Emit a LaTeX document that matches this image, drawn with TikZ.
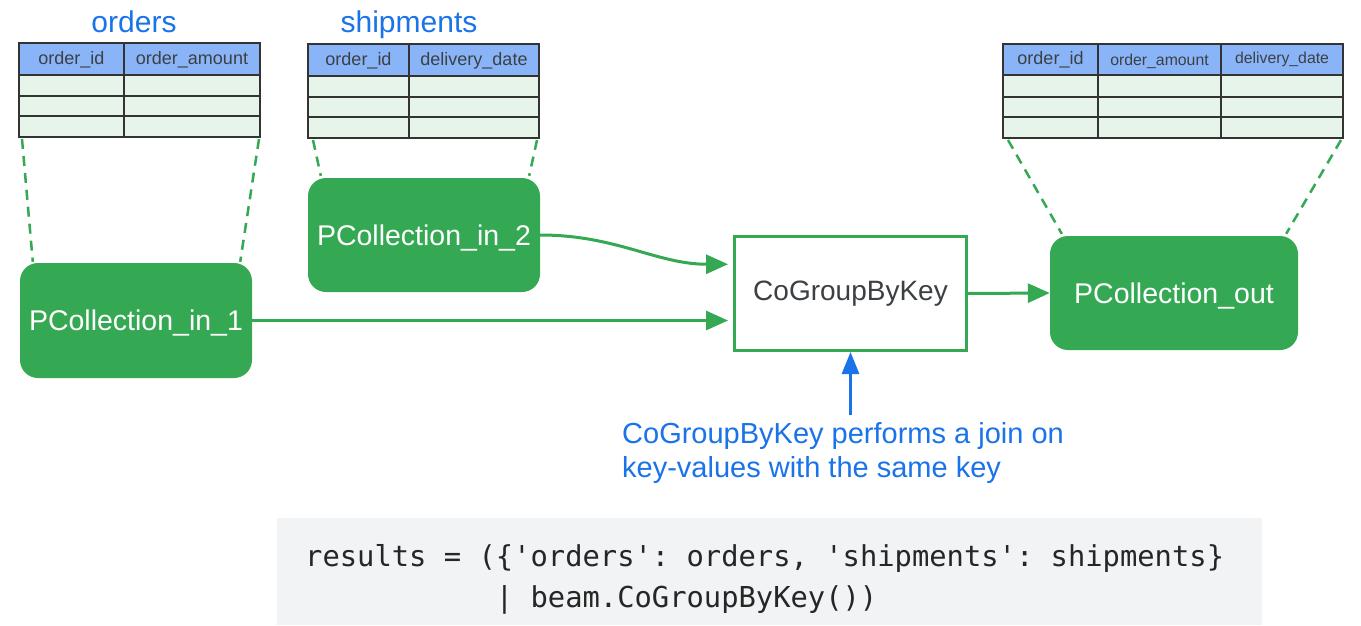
\documentclass[tikz,border=0pt]{standalone}
\usepackage{fontspec}
\setmainfont{Liberation Sans}
\setmonofont{DejaVu Sans Mono}
\usetikzlibrary{arrows.meta,calc}
\definecolor{gGreen}{HTML}{34A853}
\definecolor{gBlue}{HTML}{1A73E8}
\definecolor{hdrBlue}{HTML}{8AB4F8}
\definecolor{rowGreen}{HTML}{E6F4EA}
\definecolor{txtGray}{HTML}{3C4043}
\definecolor{gridGray}{HTML}{333333}
\definecolor{codeBg}{HTML}{F1F3F4}
\begin{document}
\begin{tikzpicture}[x=1pt,y=-1pt,
  pcoll/.style={rectangle, rounded corners=18pt, fill=gGreen, text=white, inner sep=0pt,
    text depth=0pt, font=\fontsize{28.5}{34}\selectfont},
  opbox/.style={rectangle, draw=gGreen, line width=3pt, fill=white, inner sep=0pt,
    text=txtGray, font=\fontsize{28}{32}\selectfont},
  grid/.style={draw=gridGray, line width=2.5pt},
  hdr/.style={text=txtGray, font=\fontsize{18}{20}\selectfont, inner sep=0pt},
  hdrs/.style={text=txtGray, font=\fontsize{15.8}{18}\selectfont, inner sep=0pt},
  ttl/.style={text=gBlue, font=\fontsize{30}{34}\selectfont, inner sep=0pt, anchor=base},
  flow/.style={draw=gGreen, line width=3pt, -{Triangle[length=22pt,width=19pt]}},
  note/.style={draw=gBlue, line width=3pt, -{Triangle[length=22pt,width=17pt]}},
  zoomline/.style={draw=gGreen, line width=2.5pt, dash pattern=on 10pt off 7pt},
  capt/.style={text=gBlue, font=\fontsize{29}{34}\selectfont, inner sep=0pt, anchor=base west},
  code/.style={text=black!85, font=\ttfamily\fontsize{28.8}{34}\selectfont, inner sep=0pt, anchor=base west}
]
\useasboundingbox (0,0) rectangle (1361,625);
\fill[white] (0,0) rectangle (1361,625);

% ---------- orders table ----------
\node[ttl] (tOrders) at (134,32) {orders};
\fill[hdrBlue] (19,43) rectangle (260,75);
\fill[rowGreen] (19,75) rectangle (260,137);
\draw[grid] (19,43) rectangle (260,137) (124,43) -- (124,137)
  (19,75) -- (260,75) (19,96) -- (260,96) (19,116) -- (260,116);
\node[hdr] (o1) at (71.5,60) {order\_id};
\node[hdr] (o2) at (192,60) {order\_amount};
\coordinate (ordBL) at (22,139);
\coordinate (ordBR) at (259,139);

% ---------- shipments table ----------
\node[ttl] (tShip) at (409,32) {shipments};
\fill[hdrBlue] (308,44) rectangle (539,76);
\fill[rowGreen] (308,76) rectangle (539,138);
\draw[grid] (308,44) rectangle (539,138) (409,44) -- (409,138)
  (308,76) -- (539,76) (308,97) -- (539,97) (308,117) -- (539,117);
\node[hdr] (s1) at (358.5,61) {order\_id};
\node[hdr] (s2) at (474,61) {delivery\_date};
\coordinate (shpBL) at (313,140);
\coordinate (shpBR) at (537,140);

% ---------- output table ----------
\fill[hdrBlue] (1003,44) rectangle (1343,75);
\fill[rowGreen] (1003,75) rectangle (1343,138);
\draw[grid] (1003,44) rectangle (1343,138) (1098,44) -- (1098,138) (1221,44) -- (1221,138)
  (1003,75) -- (1343,75) (1003,97) -- (1343,97) (1003,117) -- (1343,117);
\node[hdr] (r1) at (1050.5,60) {order\_id};
\node[hdrs] (r2) at (1159.5,61) {order\_amount};
\node[hdrs] (r3) at (1282,59) {delivery\_date};
\coordinate (outBL) at (1008,140);
\coordinate (outBR) at (1341,140);

% ---------- nodes ----------
\node[pcoll, minimum width=232pt, minimum height=115pt] (in1) at (136,320.5) {PCollection\_in\_1};
\node[pcoll, minimum width=232pt, minimum height=114pt] (in2) at (424,235) {PCollection\_in\_2};
\node[pcoll, minimum width=248pt, minimum height=114pt] (out) at (1174,293) {PCollection\_out};
\node[opbox, minimum width=232pt, minimum height=114pt] (cgbk) at (850.5,293.5) {CoGroupByKey};

% ---------- zoom (dashed) lines ----------
\draw[zoomline] (ordBL) -- ($(in1.north west)+(13,-1)$);
\draw[zoomline] (ordBR) -- ($(in1.north east)+(-12,-1)$);
\draw[zoomline] (shpBL) -- ($(in2.north west)+(13,-2)$);
\draw[zoomline] (shpBR) -- ($(in2.north east)+(-11,-2)$);
\draw[zoomline] (outBL) -- ($(out.north west)+(12,-2)$);
\draw[zoomline] (outBR) -- ($(out.north east)+(-12,-2)$);

% ---------- connectors ----------
\draw[flow, shorten >=5pt] (in1.east) -- (in1.east -| cgbk.west);
\coordinate (cgbkIn2) at ($(cgbk.north west)!0.25!(cgbk.south west)$);
\draw[flow, shorten >=5pt] (in2.east) to[out=0, in=180] (cgbkIn2);
\draw[flow] (cgbk.east) -- (out.west);

% ---------- note ----------
\coordinate (noteTip) at (850.5,415);
\draw[note] (noteTip) -- (cgbk.south);
\node[capt] (cap1) at (622,443) {CoGroupByKey performs a join on};
\node[capt] (cap2) at (622,477) {key-values with the same key};

% ---------- code ----------
\fill[codeBg] (277,518) rectangle (1262,625);
\node[code] (code1) at (305,566) {results = (\{'orders': orders, 'shipments': shipments\}};
\node[code] (code2) at (495.7,607) {| beam.CoGroupByKey())};
\end{tikzpicture}
\end{document}
